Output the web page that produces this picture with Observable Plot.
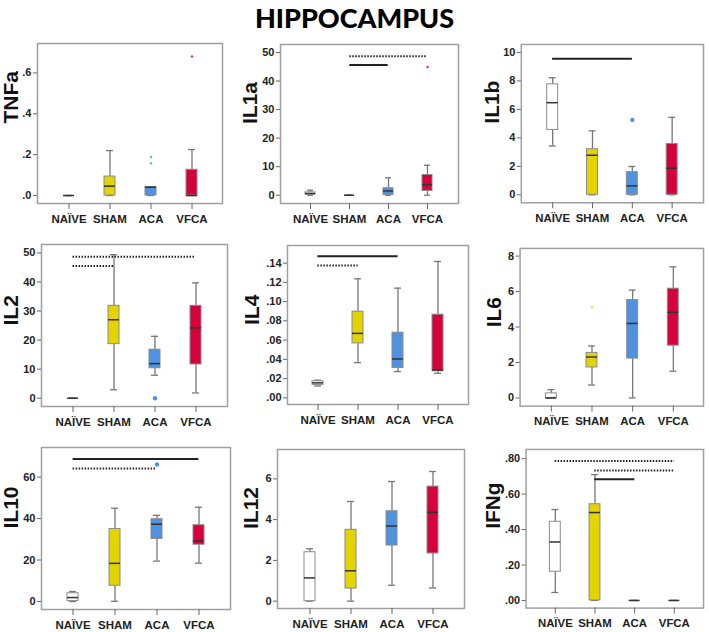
<!DOCTYPE html>
<html><head><meta charset="utf-8">
<script src="https://cdn.jsdelivr.net/npm/d3@7"></script>
<script src="https://cdn.jsdelivr.net/npm/@observablehq/plot@0.6"></script>
<style>
html,body{margin:0;padding:0;background:#fff}
body{width:709px;height:632px;overflow:hidden;position:relative}
#title{position:absolute;left:0;width:709px;top:2px;line-height:32px;text-align:center;font-family:Lato,"Liberation Sans",sans-serif;font-weight:900;font-size:27px;color:#000}
.panel{position:absolute}
</style></head><body>
<div id="title">HIPPOCAMPUS</div>
<script>
// ---- categories ----
const groups = ["NAÏVE", "SHAM", "ACA", "VFCA"];
const groupColors = ["#ffffff", "#e3d400", "#4f93e0", "#d6003a"];
const cytokines = ["TNFa", "IL1a", "IL1b", "IL2", "IL4", "IL6", "IL10", "IL12", "IFNg"];

// ---- box statistics per group: [whisker low, Q1, median, Q3, whisker high] ----
const TNFa = [[0,0,0,0,0],[0,0,0.046,0.093,0.22],[0,0,0.041,0.041,0.041],[0,0,0,0.126,0.225]];
const IL1a = [[0,0.2,0.6,1.0,1.75],[0,0,0,0,0],[0,0.1,1.5,2.45,6.1],[0,1.5,3.7,7.1,10.5]];
const IL1b = [[3.43,4.56,6.47,7.76,8.22],[0,0,2.78,3.2,4.49],[0,0,0.63,1.59,1.99],[0,0,1.87,3.57,5.44]];
const IL2  = [[0,0,0,0,0],[2.9,18.6,27.0,31.8,49.4],[7.9,10.3,11.9,16.7,21.3],[1.8,11.6,24.2,31.8,39.7]];
const IL4  = [[0.0124,0.0135,0.0156,0.0173,0.0183],[0.0366,0.0566,0.067,0.0895,0.1237],[0.0273,0.0311,0.0404,0.0677,0.114],[0.0255,0.0276,0.029,0.0864,0.1417]];
const IL6  = [[0,0,0,0.26,0.47],[0.73,1.72,2.31,2.54,2.93],[0,2.22,4.2,5.52,6.08],[1.51,2.95,4.83,6.16,7.39]];
const IL10 = [[0,0.2,1.9,4.0,4.8],[0.1,7.6,18.4,35.0,45.0],[19.5,30.2,37.3,39.7,41.6],[18.5,27.4,29.2,36.8,45.5]];
const IL12 = [[0,0,1.14,2.40,2.57],[0,0.62,1.49,3.5,4.89],[0.78,2.73,3.69,4.41,5.87],[0.65,2.34,4.36,5.62,6.36]];
const IFNg = [[0.045,0.162,0.33,0.444,0.513],[0,0,0.496,0.543,0.71],[0,0,0,0,0],[0,0,0,0,0]];
const boxStats = {TNFa, IL1a, IL1b, IL2, IL4, IL6, IL10, IL12, IFNg};

// ---- outliers (type: "outlier" circle, "extreme" small star) ----
const outliers = [
  {cytokine: "TNFa", group: "ACA", value: 0.188, type: "extreme"},
  {cytokine: "TNFa", group: "ACA", value: 0.158, type: "extreme"},
  {cytokine: "TNFa", group: "VFCA", value: 0.68, type: "extreme"},
  {cytokine: "IL1a", group: "VFCA", value: 44.9, type: "extreme"},
  {cytokine: "IL1b", group: "ACA", value: 5.26, type: "outlier"},
  {cytokine: "IL2", group: "ACA", value: 0, type: "outlier"},
  {cytokine: "IL6", group: "SHAM", value: 5.11, type: "extreme"},
  {cytokine: "IL10", group: "ACA", value: 66.1, type: "outlier"}
];

// ---- significance bars ----
const sigBars = [
  {cytokine: "IL1a", from: "SHAM", to: "VFCA", value: 48.7, kind: "dotted"},
  {cytokine: "IL1a", from: "SHAM", to: "ACA", value: 45.6, kind: "solid"},
  {cytokine: "IL1b", from: "NAÏVE", to: "ACA", value: 9.56, kind: "solid"},
  {cytokine: "IL2", from: "NAÏVE", to: "VFCA", value: 48.7, kind: "dotted"},
  {cytokine: "IL2", from: "NAÏVE", to: "SHAM", value: 45.5, kind: "dotted"},
  {cytokine: "IL4", from: "NAÏVE", to: "ACA", value: 0.1471, kind: "solid"},
  {cytokine: "IL4", from: "NAÏVE", to: "SHAM", value: 0.1375, kind: "dotted"},
  {cytokine: "IL10", from: "NAÏVE", to: "VFCA", value: 68.7, kind: "solid"},
  {cytokine: "IL10", from: "NAÏVE", to: "ACA", value: 64.2, kind: "dotted"},
  {cytokine: "IFNg", from: "NAÏVE", to: "VFCA", value: 0.787, kind: "dotted"},
  {cytokine: "IFNg", from: "SHAM", to: "VFCA", value: 0.733, kind: "dotted"},
  {cytokine: "IFNg", from: "SHAM", to: "ACA", value: 0.684, kind: "solid"}
];

// ---- y ticks and domains ----
const yTicks = [
  [0, 0.2, 0.4, 0.6], [0, 10, 20, 30, 40, 50], [0, 2, 4, 6, 8, 10],
  [0, 10, 20, 30, 40, 50], [0, 0.02, 0.04, 0.06, 0.08, 0.10, 0.12, 0.14], [0, 2, 4, 6, 8],
  [0, 20, 40, 60], [0, 2, 4, 6], [0, 0.2, 0.4, 0.6, 0.8]
];
const yTickFormats = [".1f", "d", "d", ".f", ".2f", "d", "d", "d", ".2f"].map(s => s === ".f" ? "d" : s);
const yDomains = [
  [-0.039, 0.744], [-2.9, 52.8], [-0.56, 10.56],
  [-2.86, 52.9], [-0.0069, 0.1583], [-0.46, 8.43],
  [-3.86, 74.3], [-0.36, 7.44], [-0.043, 0.852]
];

// ---- layout: plot frame [left, top, right, bottom] in page px, and y-title gap ----
const frames = [
  [37, 43, 222, 203, 26], [280, 44, 458, 203, 30], [521, 44, 704, 203, 29],
  [41, 244, 227, 406, 30], [287, 245, 468, 404, 35], [520, 248, 705, 407, 26],
  [41, 447, 230, 609, 30], [277, 449, 464, 608, 26], [526, 449, 705, 609, 33]
];

const font = "'Liberation Sans', Arial, sans-serif";
cytokines.forEach((name, k) => {
  const stats = boxStats[name];
  const rows = groups.map((g, i) => ({group: g, min: stats[i][0], q1: stats[i][1], median: stats[i][2], q3: stats[i][3], max: stats[i][4]}));
  const outs = outliers.filter(d => d.cytokine === name);
  const sigs = sigBars.filter(d => d.cytokine === name);
  const [L, T, R, B, gap] = frames[k];
  const mL = 50, mT = 6, mB = 30, mR = 6;
  const paddingInner = 0.735, paddingOuter = 0.6;
  const step = (R - L) / (groups.length - paddingInner + 2 * paddingOuter);
  const bw = step * (1 - paddingInner);
  const f = d3.format(yTickFormats[k]);
  const fmt = d => yTickFormats[k] === "d" ? f(d) : f(d).replace(/^0/, "");
  const plot = Plot.plot({
    width: R - L + mL + mR,
    height: B - T + mT + mB,
    marginLeft: mL, marginTop: mT, marginBottom: mB, marginRight: mR,
    style: {fontFamily: font, fontSize: "11px", fontWeight: "bold", color: "#222", background: "transparent", overflow: "visible"},
    x: {domain: groups, paddingInner, paddingOuter},
    y: {domain: yDomains[k]},
    color: {domain: groups, range: groupColors},
    marks: [
      Plot.frame({stroke: "#a0a0a0", strokeWidth: 1.5}),
      Plot.axisY({ticks: yTicks[k], tickFormat: fmt, tickSize: 4, tickPadding: 2, label: null, fontSize: 11, fontWeight: "bold", stroke: "#666"}),
      Plot.axisX({tickSize: 6, tickPadding: 5, label: null, fontSize: 11.5, fontWeight: "bold", stroke: "#666"}),
      Plot.text([name], {frameAnchor: "left", text: d => d, rotate: -90, dx: -gap, fontSize: 21, fontWeight: "bold", fill: "#111"}),
      Plot.ruleX(rows, {x: "group", y1: "q3", y2: "max", stroke: "#777", strokeWidth: 1.3}),
      Plot.ruleX(rows, {x: "group", y1: "min", y2: "q1", stroke: "#777", strokeWidth: 1.3}),
      Plot.tickY(rows, {x: "group", y: "max", stroke: "#777", strokeWidth: 1.3, insetLeft: 2, insetRight: 2}),
      Plot.tickY(rows, {x: "group", y: "min", stroke: "#777", strokeWidth: 1.3, insetLeft: 2, insetRight: 2}),
      Plot.barY(rows, {x: "group", y1: "q1", y2: "q3", fill: "group", stroke: "#8a8a8a", strokeWidth: 1}),
      Plot.tickY(rows, {x: "group", y: "median", stroke: "#333", strokeWidth: 1.5}),
      Plot.dot(outs.filter(d => d.type === "outlier"), {x: "group", y: "value", fill: "group", r: 2.2}),
      Plot.dot(outs.filter(d => d.type === "extreme"), {x: "group", y: "value", fill: "group", r: 1.3, fillOpacity: 0.75}),
      Plot.ruleY(sigs.filter(d => d.kind === "solid"), {y: "value", x1: "from", x2: "to", insetLeft: bw / 2, insetRight: bw / 2, stroke: "#222", strokeWidth: 2}),
      Plot.ruleY(sigs.filter(d => d.kind === "dotted"), {y: "value", x1: "from", x2: "to", insetLeft: bw / 2, insetRight: bw / 2, stroke: "#222", strokeWidth: 2, strokeDasharray: "1.5,1.5"})
    ]
  });
  const div = document.createElement("div");
  div.className = "panel";
  div.style.left = (L - mL) + "px";
  div.style.top = (T - mT) + "px";
  div.appendChild(plot);
  document.body.appendChild(div);
});
</script>
</body></html>
